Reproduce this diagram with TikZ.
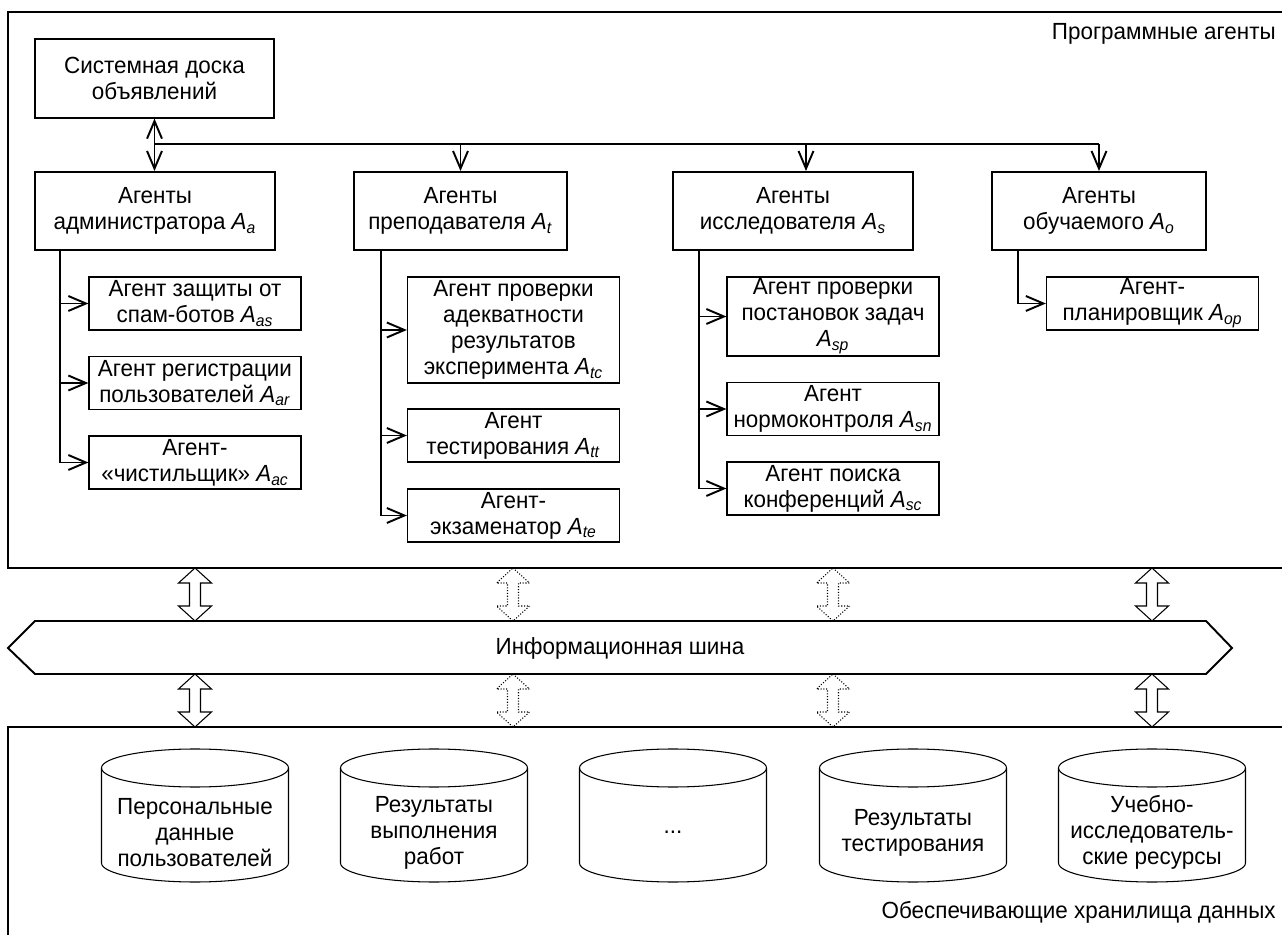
\documentclass[tikz,border=0pt]{standalone}
\usepackage{fontspec}
\setmainfont{Liberation Sans}[FakeStretch=0.96]
\usetikzlibrary{arrows.meta}
\usetikzlibrary{calc}

\newcommand{\Ag}[1]{\textit{A}\textsubscript{\textit{#1}}}
% block arrow with two heads: style, x, top y, bottom y
\newcommand{\blockarr}[4][]{%
	\draw[blk,#1] (#2,#3) -- (#2+16.5,#3+15) -- (#2+5.5,#3+15) -- (#2+5.5,#4-15) -- (#2+16.5,#4-15) -- (#2,#4)
		-- (#2-16.5,#4-15) -- (#2-5.5,#4-15) -- (#2-5.5,#3+15) -- (#2-16.5,#3+15) -- cycle;}
% data store: name, x, y, text
\newcommand{\store}[4]{%
	\draw[dbline] (#2-93.5,#3-47.5) -- (#2-93.5,#3+47.5) arc[start angle=180, end angle=0, x radius=93.5, y radius=19]
		-- (#2+93.5,#3-47.5);
	\draw[dbline] (#2,#3-47.5) ellipse[x radius=93.5, y radius=19];
	\node[txt] (#1) at (#2,#3+17) {#4};}

\tikzset{
	txt/.style={font=\fontsize{13.3}{14.8}\selectfont, align=center, inner sep=0pt},
	board/.style={txt, draw, line width=0.7pt, minimum width=4.78cm, minimum height=1.58cm},
	grp/.style={txt, draw, line width=1.1pt, minimum width=#1, minimum height=1.56cm},
	grp/.default=4.8cm,
	sub/.style={txt, draw, line width=0.7pt, minimum width=4.24cm, minimum height=#1},
	sub/.default=1.06cm,
	dbline/.style={line width=0.6pt},
	frame/.style={line width=1.1pt},
	conn/.style={line width=1.1pt},
	tip/.style={-{Straight Barb[length=10pt,width=8.5pt]}},
	tree/.style={conn, tip},
	blk/.style={line width=0.6pt},
	dots/.style={densely dotted}
}

\begin{document}
\begin{tikzpicture}[x=0.02cm, y=-0.02cm]
	\useasboundingbox (0,0) rectangle (1282,935);
	\begin{scope}
		\clip (0,0) rectangle (1282,935);
		\draw[frame] (8,12) rectangle (1300,568);
		\draw[frame] (8,727) rectangle (1300,960);
	\end{scope}
	\node[txt, anchor=base east] (pa) at (1276,40) {Программные агенты};
	\node[txt, anchor=base east] (hd) at (1276,918) {Обеспечивающие хранилища данных};

	\node[board] (board) at (154.5,78.5) {Системная доска\\объявлений};
	\node[grp] (adm) at (155,211) {Агенты\\администратора \Ag{a}};
	\node[grp=4.26cm] (tch) at (460.5,211) {Агенты\\преподавателя \Ag{t}};
	\node[grp] (res) at (793,211) {Агенты\\исследователя \Ag{s}};
	\node[grp=4.28cm] (stu) at (1099,211) {Агенты\\обучаемого \Ag{o}};

	\node[sub] (as) at (195,303.5) {Агент защиты от\\спам-ботов \Ag{as}};
	\node[sub] (ar) at (195,383) {Агент регистрации\\пользователей \Ag{ar}};
	\node[sub] (ac) at (195,462.5) {Агент-\\«чистильщик» \Ag{ac}};

	\node[sub=2.12cm] (tc) at (513.5,330) {Агент проверки\\адекватности\\результатов\\эксперимента \Ag{tc}};
	\node[sub] (tt) at (513.5,435.5) {Агент\\тестирования \Ag{tt}};
	\node[sub] (te) at (513.5,515.5) {Агент-\\экзаменатор \Ag{te}};

	\node[sub=1.58cm] (sp) at (833,316.5) {Агент проверки\\постановок задач\\\Ag{sp}};
	\node[sub] (sn) at (833,409) {Агент\\нормоконтроля \Ag{sn}};
	\node[sub] (sc) at (833,488.5) {Агент поиска\\конференций \Ag{sc}};

	\node[sub] (op) at (1152.5,303.5) {Агент-\\планировщик \Ag{op}};

	% links from the board
	\coordinate (hub) at (154.5,144);
	\draw[conn, {Straight Barb[length=10pt,width=8.5pt]}-{Straight Barb[length=10pt,width=8.5pt]}] (board.south) -- (board.south |- adm.north);
	\draw[conn] (hub) -- (hub -| stu.north);
	\draw[tree] (hub -| tch.north) -- (tch.north);
	\draw[tree] ([xshift=0.26cm]res.north |- hub) -- ([xshift=0.26cm]res.north);
	\draw[tree] (hub -| stu.north) -- (stu.north);

	% group trees
	\foreach \s in {as,ar,ac}
		\draw[tree] ([xshift=0.52cm]adm.south west) |- (\s.west);
	\foreach \s in {tc,tt,te}
		\draw[tree] ([xshift=0.56cm]tch.south west) |- (\s.west);
	\foreach \s in {sp,sn,sc}
		\draw[tree] ([xshift=0.54cm]res.south west) |- (\s.west);
	\draw[tree] ([xshift=0.54cm]stu.south west) |- (op.west);

	% bus
	\draw[line width=1.1pt] (8,648) -- (35,621) -- (1206,621) -- (1232,648) -- (1206,674) -- (35,674) -- cycle;
	\node[txt] (bus) at (620,648) {Информационная шина};
	\blockarr{195}{568}{621}
	\blockarr[dots]{513}{568}{621}
	\blockarr[dots]{833}{568}{621}
	\blockarr{1152}{568}{621}
	\blockarr{195}{674}{727}
	\blockarr[dots]{513}{674}{727}
	\blockarr[dots]{833}{674}{727}
	\blockarr{1152}{674}{727}

	% data stores
	\store{pd}{195}{815.5}{Персональные\\данные\\пользователей}
	\store{rw}{434}{815.5}{Результаты\\выполнения\\работ}
	\store{etc}{673}{815.5}{...}
	\store{rt}{913}{815.5}{Результаты\\тестирования}
	\store{er}{1152}{815.5}{Учебно-\\исследователь-\\ские ресурсы}
\end{tikzpicture}
\end{document}
